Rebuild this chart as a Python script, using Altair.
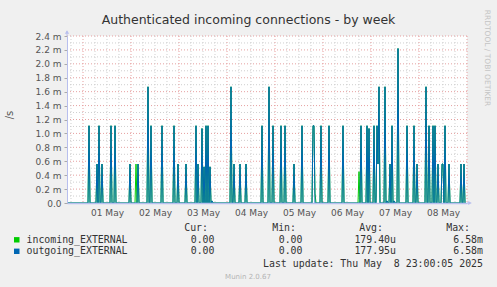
import altair as alt
import pandas as pd

# ---------------- data ----------------
title_text = "Authenticated incoming connections - by week"
range_start = "2025-04-30 16:00"
range_end = "2025-05-08 23:00"

spike_times = [
    "2025-05-01 03:00", "2025-05-01 07:00", "2025-05-01 08:00", "2025-05-01 09:30",
    "2025-05-01 14:00", "2025-05-01 16:00", "2025-05-01 23:30",
    "2025-05-02 02:30", "2025-05-02 03:30", "2025-05-02 08:30", "2025-05-02 10:00",
    "2025-05-02 15:30", "2025-05-02 21:30", "2025-05-02 23:30",
    "2025-05-03 03:30", "2025-05-03 08:30", "2025-05-03 09:30", "2025-05-03 11:30",
    "2025-05-03 12:30", "2025-05-03 13:30", "2025-05-03 14:30", "2025-05-03 15:30",
    "2025-05-03 16:30",
    "2025-05-04 02:00", "2025-05-04 03:30", "2025-05-04 06:30", "2025-05-04 09:30",
    "2025-05-04 17:30", "2025-05-04 21:00", "2025-05-04 23:00",
    "2025-05-05 03:00", "2025-05-05 05:00", "2025-05-05 09:30", "2025-05-05 13:30",
    "2025-05-05 19:00", "2025-05-05 19:30", "2025-05-05 20:00", "2025-05-05 23:00",
    "2025-05-06 03:00", "2025-05-06 10:00", "2025-05-06 18:00", "2025-05-06 19:00",
    "2025-05-06 22:00", "2025-05-06 23:00",
    "2025-05-07 01:30", "2025-05-07 03:00", "2025-05-07 03:30", "2025-05-07 04:00",
    "2025-05-07 07:00", "2025-05-07 08:00", "2025-05-07 09:30", "2025-05-07 10:30",
    "2025-05-07 11:30", "2025-05-07 13:30", "2025-05-07 18:00", "2025-05-07 21:30",
    "2025-05-07 23:00",
    "2025-05-08 03:30", "2025-05-08 05:00", "2025-05-08 07:00", "2025-05-08 08:00",
    "2025-05-08 09:30", "2025-05-08 11:30", "2025-05-08 12:00", "2025-05-08 13:00",
    "2025-05-08 15:00", "2025-05-08 21:00", "2025-05-08 22:30",
]
# values in milli-connections per second
outgoing_vals = [
    1.11, 0.56, 1.11, 0.56, 1.11, 1.11, 0.56,
    0.00, 0.56, 1.67, 1.11, 1.11, 1.11, 0.56,
    0.56, 1.11, 0.56, 1.07, 0.52, 1.11, 1.11, 0.52, 0.03,
    1.67, 0.56, 0.56, 0.56, 1.11, 1.67, 1.11,
    1.11, 1.11, 0.56, 1.11, 1.11, 1.11, 0.00, 1.11,
    1.11, 1.11, 0.00, 1.11, 1.11, 1.07,
    1.11, 1.11, 0.56, 1.67, 1.67, 0.03, 0.56, 1.11, 0.03, 2.22, 1.11, 1.11, 0.56,
    1.67, 1.11, 1.11, 1.11, 0.56, 0.56, 0.56, 1.11, 0.56, 0.56, 0.56,
]
incoming_vals = [
    1.11, 0.56, 1.11, 0.56, 1.11, 1.11, 0.56,
    0.56, 0.56, 1.67, 1.11, 1.11, 1.11, 0.56,
    0.56, 1.11, 0.56, 1.07, 0.52, 1.11, 1.11, 0.52, 0.03,
    1.67, 0.56, 0.56, 0.56, 1.11, 1.67, 1.11,
    1.11, 1.11, 0.56, 1.11, 1.11, 1.11, 0.14, 1.11,
    1.11, 1.11, 0.45, 1.11, 1.11, 1.07,
    1.11, 1.11, 0.56, 1.67, 1.67, 0.03, 0.56, 1.11, 0.03, 2.22, 1.11, 1.11, 0.56,
    1.67, 1.11, 1.11, 1.11, 0.56, 0.56, 0.56, 1.11, 0.56, 0.56, 0.56,
]

day_labels = ["01 May", "02 May", "03 May", "04 May", "05 May", "06 May", "07 May", "08 May"]
y_ticks = [0.0, 0.2, 0.4, 0.6, 0.8, 1.0, 1.2, 1.4, 1.6, 1.8, 2.0, 2.2, 2.4]

series_names = ["incoming_EXTERNAL", "outgoing_EXTERNAL"]
series_colors = ["#00CC00", "#0066B3"]
legend_cur = ["0.00", "0.00"]
legend_min = ["0.00", "0.00"]
legend_avg = ["179.40u", "177.95u"]
legend_max = ["6.58m", "6.58m"]
last_update = "Last update: Thu May \u00a08 23:00:05 2025"
footer = "Munin 2.0.67"
side_text = "RRDTOOL / TOBI OETIKER"

# ---------------- build tables ----------------
t0 = pd.Timestamp(range_start)
timeline = pd.date_range(range_start, range_end, freq="30min")
hours = [(t - t0).total_seconds() / 3600 for t in timeline]
out_map = {pd.Timestamp(t): v for t, v in zip(spike_times, outgoing_vals)}
in_map = {pd.Timestamp(t): v for t, v in zip(spike_times, incoming_vals)}
df_in = pd.DataFrame({"h": hours, "v": [in_map.get(t, 0.0) for t in timeline]})
df_out = pd.DataFrame({"h": hours, "v": [out_map.get(t, 0.0) for t in timeline]})

TOTAL_H = 200
first_midnight = (pd.Timestamp("2025-05-01 00:00") - t0).total_seconds() / 3600  # 8
major_x = [first_midnight + 24 * k for k in range(9) if first_midnight + 24 * k <= TOTAL_H]
minor_x = [h for h in range(2, TOTAL_H + 1, 6) if (h - first_midnight) % 24 != 0]
noon_x = [first_midnight + 12 + 24 * k for k in range(len(day_labels))]
major_y = [v for v in y_ticks if v > 0]
minor_y = [round(v + 0.1, 1) for v in y_ticks[:-1]]

FONT = "DejaVu Sans"
MONO = "DejaVu Sans Mono"
AXIS_COL = "#b8bfee"
LEFT, TOP = 67, 36
W, H = 400, 167

label_arr = "[" + ",".join("'%s'" % s for s in day_labels) + "]"
x_axis = alt.Axis(values=noon_x, labelExpr=label_arr + "[round((datum.value - %g) / 24)]" % (first_midnight + 12),
                  ticks=False, grid=False, domainColor=AXIS_COL, domainWidth=1.5, labelFont=FONT, labelFontSize=9,
                  labelColor="#555555", labelPadding=5, labelAngle=0, labelFlush=False, title=None, zindex=1)
y_axis = alt.Axis(values=y_ticks,
                  labelExpr="datum.value == 0 ? '0.0' : format(datum.value, '.1f') + ' m'",
                  grid=False, domainColor=AXIS_COL, tickColor="#aaaaaa", tickSize=3,
                  labelFont=FONT, labelFontSize=9, labelColor="#555555", labelPadding=3, title=None, zindex=1)
x_scale = alt.Scale(domain=[0, TOTAL_H], nice=False, zero=False)
y_scale = alt.Scale(domain=[0, 2.4], nice=False)

X = lambda f: alt.X(f, scale=x_scale, axis=x_axis)
Y = lambda f: alt.Y(f, scale=y_scale, axis=y_axis)

grid_minor_y = alt.Chart(pd.DataFrame({"v": minor_y})).mark_rule(
    color="#cfcfcf", strokeDash=[1, 2], strokeWidth=1).encode(y=Y("v:Q"))
grid_major_y = alt.Chart(pd.DataFrame({"v": major_y})).mark_rule(
    color="#e6a0a0", strokeDash=[1, 2], strokeWidth=1).encode(y=Y("v:Q"))
grid_minor_x = alt.Chart(pd.DataFrame({"h": minor_x})).mark_rule(
    color="#cfcfcf", strokeDash=[1, 2], strokeWidth=1).encode(x=X("h:Q"))
grid_major_x = alt.Chart(pd.DataFrame({"h": major_x})).mark_rule(
    color="#e6a0a0", strokeDash=[1, 2], strokeWidth=1).encode(x=X("h:Q"))

line_in = alt.Chart(df_in).mark_line(color=series_colors[0], strokeWidth=1).encode(
    x=X("h:Q"), y=Y("v:Q"))
line_out = alt.Chart(df_out).mark_line(color=series_colors[1], strokeWidth=1).encode(
    x=X("h:Q"), y=Y("v:Q"))

one = pd.DataFrame({"a": [0]})


def txt(s, x, y, size=9.9, color="#333333", font=MONO, align="left", angle=None, baseline="middle"):
    kw = dict(text=s, font=font, fontSize=size, color=color, align=align, baseline=baseline)
    if angle is not None:
        kw["angle"] = angle
    return alt.Chart(one).mark_text(**kw).encode(x=alt.value(x - LEFT), y=alt.value(y - TOP))


# axis arrows / extensions
yext = alt.Chart(one).mark_rule(color=AXIS_COL).encode(
    x=alt.value(0), y=alt.value(-5), y2=alt.value(0))
xext = alt.Chart(one).mark_rule(color=AXIS_COL).encode(
    x=alt.value(W), x2=alt.value(W + 3), y=alt.value(H))
arrow_up = alt.Chart(one).mark_point(shape="triangle-up", filled=True, color=AXIS_COL, size=18, opacity=1).encode(
    x=alt.value(0), y=alt.value(-4))
arrow_right = alt.Chart(one).mark_point(shape="triangle-right", filled=True, color=AXIS_COL, size=18, opacity=1).encode(
    x=alt.value(W + 3), y=alt.value(H))

texts = [
    txt(title_text, 248.5, 19.5, size=12.5, color="#333333", font=FONT, align="center"),
    txt("/s", 10, 115, size=10, color="#555555", font=FONT, align="center", angle=270),
    txt(side_text, 487, 58, size=7.5, color="#c4c4c4", font=FONT, align="center", angle=90),
    txt("Cur:", 208, 228, align="right"),
    txt("Min:", 296, 228, align="right"),
    txt("Avg:", 383, 228, align="right"),
    txt("Max:", 470, 228, align="right"),
    txt(last_update, 483, 263.5, align="right"),
    txt(footer, 248, 276.5, size=7, color="#b4b4b4", font=FONT, align="center"),
]
row_y = [239.8, 251.3]
squares = []
for i, name in enumerate(series_names):
    yy = row_y[i]
    texts += [
        txt(name, 26.5, yy),
        txt(legend_cur[i], 214.5, yy, align="right"),
        txt(legend_min[i], 302.5, yy, align="right"),
        txt(legend_avg[i], 396, yy, align="right"),
        txt(legend_max[i], 483, yy, align="right"),
    ]
    squares.append(alt.Chart(one).mark_rect(color=series_colors[i]).encode(
        x=alt.value(14 - LEFT), x2=alt.value(19.5 - LEFT),
        y=alt.value(yy - 2.7 - TOP), y2=alt.value(yy + 2.7 - TOP)))

chart = alt.layer(
    grid_minor_y, grid_major_y, grid_minor_x, grid_major_x,
    line_in, line_out, yext, xext, arrow_up, arrow_right, *squares, *texts
).properties(
    width=W, height=H,
    padding={"left": LEFT, "top": TOP, "right": 497 - LEFT - W, "bottom": 287 - TOP - H},
    autosize=alt.AutoSizeParams(type="none"),
    background="#F0F0F0",
).configure_view(fill="white", stroke=None)

chart.save("out.html", embed_options={"renderer": "svg", "actions": False})
